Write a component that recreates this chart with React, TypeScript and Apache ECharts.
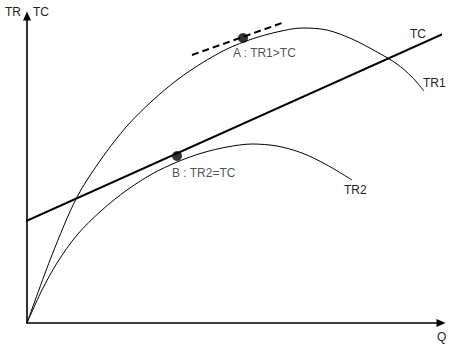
import React, { useEffect, useRef } from "react";
import * as echarts from "echarts";

// Curves (Q, value)
const tr1Data: number[][] = [
  [0, 0], [25, 68], [50, 126], [75, 165], [100, 197], [125, 222], [150, 243],
  [175, 260], [200, 274], [225, 284], [250, 291], [275, 295], [300, 293],
  [325, 284], [350, 271], [370, 259], [385, 246], [397, 232],
];
const tr2Data: number[][] = [
  [0, 0], [15, 33], [30, 60], [50, 88], [75, 113], [100, 133], [125, 149],
  [150, 161], [175, 170], [200, 176], [225, 179], [250, 177], [275, 170],
  [300, 158], [325, 143],
];
const tcData: number[][] = [[-3, 101], [436, 298]];
const tangentData: number[][] = [[165, 268], [255, 300]];
const pointA: number[] = [216, 285];
const pointB: number[] = [150, 167];
const labelA = "A : TR1>TC";
const labelB = "B : TR2=TC";
const seriesNames = ["TR1", "TR2", "TC"];
const axisNames = { yLeft: "TR", yRight: "TC", x: "Q" };

const FONT = "Liberation Sans, Arial, sans-serif";
const TXT = "#222";

export default function App() {
  const ref = useRef<HTMLDivElement>(null);
  useEffect(() => {
    if (!ref.current) return;
    const chart = echarts.init(ref.current, undefined, { renderer: "svg" });
    const endLabel = (name: string, offset: number[]) => ({
      show: true,
      formatter: name,
      offset,
      fontFamily: FONT,
      fontSize: 12,
      color: TXT,
    });
    const pointLabel = (text: string, position: number[]) => ({
      show: true,
      formatter: text,
      position,
      align: "left",
      verticalAlign: "middle",
      fontFamily: FONT,
      fontSize: 12,
      color: TXT,
    });
    chart.setOption({
      animation: false,
      grid: { left: 27, right: 23, top: 16, bottom: 24, containLabel: false },
      xAxis: {
        type: "value",
        min: 0,
        max: 414,
        axisLine: {
          show: true,
          symbol: ["none", "triangle"],
          symbolSize: [8, 9],
          lineStyle: { color: "#000", width: 1.6 },
        },
        axisTick: { show: false },
        axisLabel: { show: false },
        splitLine: { show: false },
      },
      yAxis: {
        type: "value",
        min: 0,
        max: 307,
        axisLine: {
          show: true,
          symbol: ["none", "triangle"],
          symbolSize: [8, 9],
          lineStyle: { color: "#000", width: 1.6 },
        },
        axisTick: { show: false },
        axisLabel: { show: false },
        splitLine: { show: false },
      },
      graphic: [
        { type: "text", left: 5, top: 6, style: { text: axisNames.yLeft, font: `12px ${FONT}`, fill: TXT } },
        { type: "text", left: 33, top: 6, style: { text: axisNames.yRight, font: `12px ${FONT}`, fill: TXT } },
        { type: "text", left: 437, top: 331, style: { text: axisNames.x, font: `12px ${FONT}`, fill: TXT } },
      ],
      series: [
        {
          name: seriesNames[0],
          type: "line",
          data: tr1Data,
          smooth: 0.3,
          showSymbol: false,
          clip: false,
          lineStyle: { color: "#000", width: 1 },
          endLabel: endLabel(seriesNames[0], [-9, -8]),
        },
        {
          name: seriesNames[1],
          type: "line",
          data: tr2Data,
          smooth: 0.3,
          showSymbol: false,
          clip: false,
          lineStyle: { color: "#000", width: 1 },
          endLabel: endLabel(seriesNames[1], [-16, 10]),
        },
        {
          name: seriesNames[2],
          type: "line",
          data: tcData,
          showSymbol: false,
          clip: false,
          lineStyle: { color: "#000", width: 2 },
          endLabel: endLabel(seriesNames[2], [-40, 0]),
        },
        {
          name: "tangent",
          type: "line",
          data: tangentData,
          showSymbol: false,
          clip: false,
          lineStyle: { color: "#000", width: 2, type: [7, 4] },
        },
        {
          name: "points",
          type: "scatter",
          symbolSize: 10,
          itemStyle: { color: "#000" },
          data: [
            { value: pointA, label: pointLabel(labelA, [-5, 20]) },
            { value: pointB, label: pointLabel(labelB, [0, 22]) },
          ],
        },
      ],
    });
    return () => chart.dispose();
  }, []);
  return <div ref={ref} style={{ width: 464, height: 347, position: "absolute", left: 0, top: 0 }} />;
}
